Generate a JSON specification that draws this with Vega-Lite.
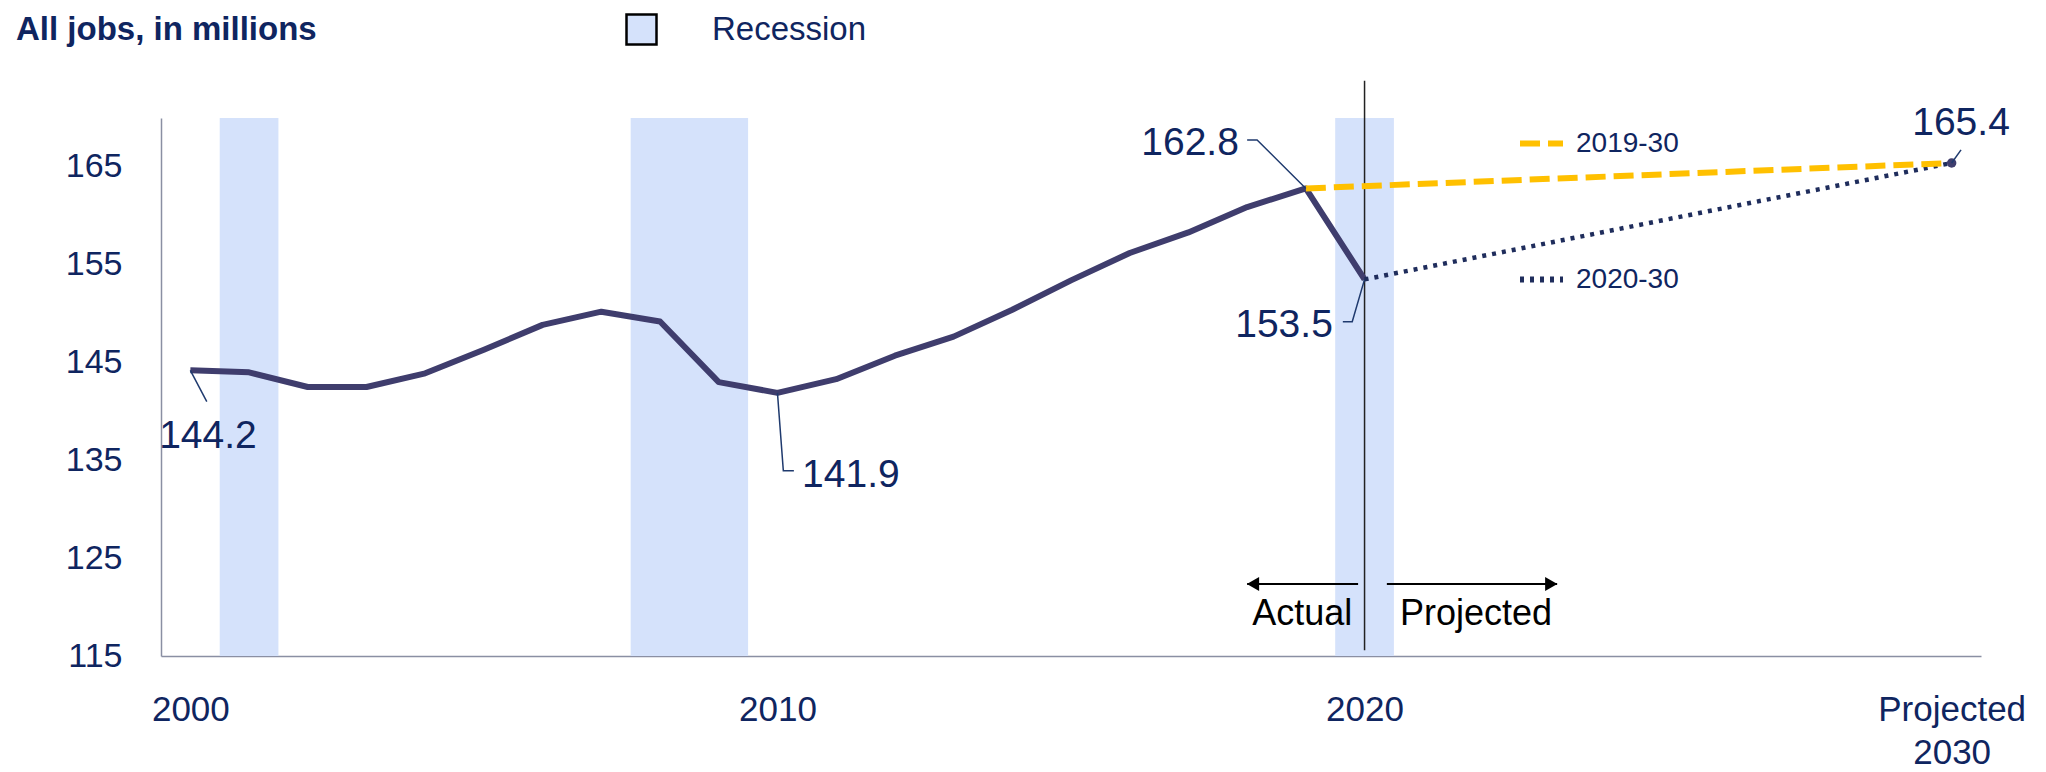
{
  "$schema": "https://vega.github.io/schema/vega-lite/v6.json",
  "width": 1820,
  "height": 538,
  "autosize": {"type": "none"},
  "padding": {"left": 161, "top": 118, "right": 65, "bottom": 116},
  "background": "white",
  "title": {"text": "All jobs, in millions", "anchor": "start", "frame": "group", "font": "Liberation Sans", "fontSize": 33, "fontWeight": "bold", "color": "#0f2560", "dx": -145, "dy": 34, "offset": 0},
  "config": {"view": {"stroke": null}, "font": "Liberation Sans"},
  "datasets": {
    "recessions": [
      {"year": 2000.5, "year2": 2001.5, "value": 115, "value2": 170, "type": "Recession"},
      {"year": 2007.5, "year2": 2009.5, "value": 115, "value2": 170, "type": "Recession"},
      {"year": 2019.5, "year2": 2020.5, "value": 115, "value2": 170, "type": "Recession"}
    ],
    "divider": [{"year": 2020, "value": 115.6, "value2": 173.8}],
    "actual": [
      {"year": 2000, "value": 144.2}, {"year": 2001, "value": 144.0}, {"year": 2002, "value": 142.5},
      {"year": 2003, "value": 142.5}, {"year": 2004, "value": 143.9}, {"year": 2005, "value": 146.3},
      {"year": 2006, "value": 148.85}, {"year": 2007, "value": 150.2}, {"year": 2008, "value": 149.2},
      {"year": 2009, "value": 143.0}, {"year": 2010, "value": 141.9}, {"year": 2011, "value": 143.3},
      {"year": 2012, "value": 145.7}, {"year": 2013, "value": 147.65}, {"year": 2014, "value": 150.4},
      {"year": 2015, "value": 153.4}, {"year": 2016, "value": 156.2}, {"year": 2017, "value": 158.3},
      {"year": 2018, "value": 160.9}, {"year": 2019, "value": 162.8}, {"year": 2020, "value": 153.5}
    ],
    "projections": [
      {"series": "2019-30", "year": 2019, "value": 162.8},
      {"series": "2019-30", "year": 2030, "value": 165.4},
      {"series": "2020-30", "year": 2020, "value": 153.5},
      {"series": "2020-30", "year": 2030, "value": 165.4}
    ],
    "endpoint": [{"year": 2030, "value": 165.4}],
    "leaders": [
      {"id": "a", "ord": 1, "year": 2018.0, "value": 167.76},
      {"id": "a", "ord": 2, "year": 2018.17, "value": 167.76},
      {"id": "a", "ord": 3, "year": 2019, "value": 162.8},
      {"id": "b", "ord": 1, "year": 2019.63, "value": 149.18},
      {"id": "b", "ord": 2, "year": 2019.79, "value": 149.18},
      {"id": "b", "ord": 3, "year": 2020, "value": 153.5},
      {"id": "c", "ord": 1, "year": 2030.16, "value": 166.74},
      {"id": "c", "ord": 2, "year": 2030, "value": 165.4},
      {"id": "d", "ord": 1, "year": 2000, "value": 144.2},
      {"id": "d", "ord": 2, "year": 2000.28, "value": 141.0},
      {"id": "e", "ord": 1, "year": 2010, "value": 141.9},
      {"id": "e", "ord": 2, "year": 2010.1, "value": 133.95},
      {"id": "e", "ord": 3, "year": 2010.28, "value": 133.95}
    ],
    "labels": [
      {"label": "162.8", "year": 2017.86, "value": 166.23, "pos": "right"},
      {"label": "153.5", "year": 2019.46, "value": 147.65, "pos": "right"},
      {"label": "165.4", "year": 2030.16, "value": 168.27, "pos": "center"},
      {"label": "144.2", "year": 2000.3, "value": 136.24, "pos": "center"},
      {"label": "141.9", "year": 2010.42, "value": 132.23, "pos": "left"}
    ],
    "arrows": [
      {"dir": "left", "year": 2018.0, "year2": 2019.89, "value": 122.36, "head": 2018.1},
      {"dir": "right", "year": 2020.38, "year2": 2023.28, "value": 122.36, "head": 2023.18}
    ],
    "arrowText": [
      {"text": "Actual", "year": 2018.94, "value": 118.17},
      {"text": "Projected", "year": 2021.9, "value": 118.17}
    ]
  },
  "encoding": {
    "x": {
      "field": "year", "type": "quantitative", "title": null,
      "scale": {"domain": [1999.5, 2030.5], "nice": false, "zero": false},
      "axis": {
        "values": [2000, 2010, 2020, 2030], "format": "d",
        "labelExpr": "datum.value == 2030 ? ['Projected', '2030'] : datum.label",
        "ticks": false, "tickSize": 0, "grid": false,
        "domainColor": "#8a8fa3", "domainWidth": 1.5,
        "labelFont": "Liberation Sans", "labelFontSize": 35, "labelColor": "#0f2560",
        "labelPadding": 36, "labelLineHeight": 43,
        "labelOverlap": false, "labelBound": false, "labelFlush": false
      }
    },
    "y": {
      "field": "value", "type": "quantitative", "title": null,
      "scale": {"domain": [115, 170], "nice": false, "zero": false},
      "axis": {
        "values": [115, 125, 135, 145, 155, 165],
        "ticks": false, "tickSize": 0, "grid": false,
        "domainColor": "#8a8fa3", "domainWidth": 1.5,
        "labelFont": "Liberation Sans", "labelFontSize": 34, "labelColor": "#0f2560",
        "labelPadding": 39
      }
    }
  },
  "layer": [
    {
      "data": {"name": "recessions"},
      "mark": {"type": "rect"},
      "encoding": {
        "x2": {"field": "year2"},
        "y2": {"field": "value2"},
        "fill": {
          "field": "type", "type": "nominal",
          "scale": {"range": ["#d5e2fb"]},
          "legend": {
            "title": null, "orient": "none", "legendX": 464, "legendY": -105,
            "symbolType": "square", "symbolSize": 900,
            "symbolStrokeColor": "black", "symbolStrokeWidth": 2.5,
            "labelFont": "Liberation Sans", "labelFontSize": 33, "labelColor": "#0f2560", "labelOffset": 54
          }
        }
      }
    },
    {
      "data": {"name": "divider"},
      "mark": {"type": "rule", "color": "#222222", "strokeWidth": 1.5},
      "encoding": {"y2": {"field": "value2"}}
    },
    {
      "data": {"name": "actual"},
      "mark": {"type": "line", "color": "#3f3d6d", "strokeWidth": 6, "strokeJoin": "round"}
    },
    {
      "data": {"name": "projections"},
      "transform": [{"filter": "datum.series == '2020-30'"}],
      "mark": {"type": "line", "strokeWidth": 4.5},
      "encoding": {
        "stroke": {"field": "series", "type": "nominal", "scale": {"domain": ["2019-30", "2020-30"], "range": ["#ffc000", "#1f2d5c"]},
          "legend": {"title": null, "orient": "none", "legendX": 1356, "legendY": 1, "symbolType": "stroke", "symbolSize": 1849, "symbolStrokeWidth": 6, "rowPadding": 97, "labelFont": "Liberation Sans", "labelFontSize": 28, "labelColor": "#0f2560", "labelOffset": 10}},
        "strokeDash": {"field": "series", "type": "nominal", "scale": {"domain": ["2019-30", "2020-30"], "range": [[20, 8], [4, 6]]},
          "legend": {"title": null, "orient": "none", "legendX": 1356, "legendY": 1, "symbolType": "stroke", "symbolSize": 1849, "symbolStrokeWidth": 6, "rowPadding": 97, "labelFont": "Liberation Sans", "labelFontSize": 28, "labelColor": "#0f2560", "labelOffset": 10}}
      }
    },
    {
      "data": {"name": "projections"},
      "transform": [{"filter": "datum.series == '2019-30'"}],
      "mark": {"type": "line", "strokeWidth": 6},
      "encoding": {
        "stroke": {"field": "series", "type": "nominal", "scale": {"domain": ["2019-30", "2020-30"], "range": ["#ffc000", "#1f2d5c"]},
          "legend": {"title": null, "orient": "none", "legendX": 1356, "legendY": 1, "symbolType": "stroke", "symbolSize": 1849, "symbolStrokeWidth": 6, "rowPadding": 97, "labelFont": "Liberation Sans", "labelFontSize": 28, "labelColor": "#0f2560", "labelOffset": 10}},
        "strokeDash": {"field": "series", "type": "nominal", "scale": {"domain": ["2019-30", "2020-30"], "range": [[20, 8], [4, 6]]},
          "legend": {"title": null, "orient": "none", "legendX": 1356, "legendY": 1, "symbolType": "stroke", "symbolSize": 1849, "symbolStrokeWidth": 6, "rowPadding": 97, "labelFont": "Liberation Sans", "labelFontSize": 28, "labelColor": "#0f2560", "labelOffset": 10}}
      }
    },
    {
      "data": {"name": "endpoint"},
      "mark": {"type": "point", "filled": true, "color": "#3f3d6d", "size": 90, "opacity": 1}
    },
    {
      "data": {"name": "leaders"},
      "mark": {"type": "line", "color": "#1f3a6e", "strokeWidth": 1.5},
      "encoding": {
        "detail": {"field": "id", "type": "nominal"},
        "order": {"field": "ord", "type": "quantitative"}
      }
    },
    {
      "data": {"name": "labels"},
      "transform": [{"filter": "datum.pos == 'right'"}],
      "mark": {"type": "text", "align": "right", "baseline": "alphabetic", "font": "Liberation Sans", "fontSize": 39, "color": "#0f2560"},
      "encoding": {"text": {"field": "label"}}
    },
    {
      "data": {"name": "labels"},
      "transform": [{"filter": "datum.pos == 'center'"}],
      "mark": {"type": "text", "align": "center", "baseline": "alphabetic", "font": "Liberation Sans", "fontSize": 39, "color": "#0f2560"},
      "encoding": {"text": {"field": "label"}}
    },
    {
      "data": {"name": "labels"},
      "transform": [{"filter": "datum.pos == 'left'"}],
      "mark": {"type": "text", "align": "left", "baseline": "alphabetic", "font": "Liberation Sans", "fontSize": 39, "color": "#0f2560"},
      "encoding": {"text": {"field": "label"}}
    },
    {
      "data": {"name": "arrows"},
      "mark": {"type": "rule", "color": "black", "strokeWidth": 2},
      "encoding": {"x2": {"field": "year2"}}
    },
    {
      "data": {"name": "arrows"},
      "mark": {"type": "point", "filled": true, "color": "black", "size": 200, "opacity": 1},
      "encoding": {
        "x": {"field": "head", "type": "quantitative", "title": null},
        "shape": {"field": "dir", "type": "nominal", "scale": {"domain": ["left", "right"], "range": ["triangle-left", "triangle-right"]}, "legend": null}
      }
    },
    {
      "data": {"name": "arrowText"},
      "mark": {"type": "text", "align": "center", "baseline": "alphabetic", "font": "Liberation Sans", "fontSize": 36, "color": "black"},
      "encoding": {"text": {"field": "text"}}
    }
  ]
}
